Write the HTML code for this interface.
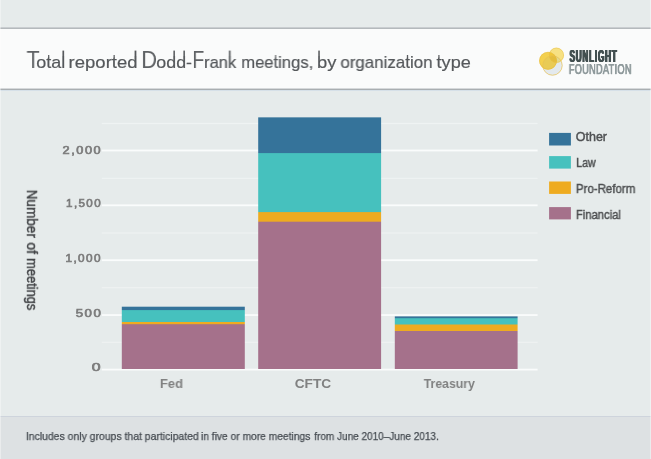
<!DOCTYPE html>
<html>
<head>
<meta charset="utf-8">
<title>Total reported Dodd-Frank meetings, by organization type</title>
<style>
html,body{margin:0;padding:0;}
body{width:651px;height:459px;overflow:hidden;background:#e6ebeb;font-family:"Liberation Sans",sans-serif;position:relative;}
.abs{position:absolute;}
.hdr{left:0;top:27px;width:651px;height:64px;background:linear-gradient(to bottom,#c9cdd0 0,#c9cdd0 1px,#b4b9bc 1px,#b4b9bc 2px,#fafbfb 2px,#fafbfb 61px,#d6d9db 61px,#d6d9db 62px,#a9aeb1 62px,#a9aeb1 63px,#d6e0e8 63px,#d6e0e8 64px);}
.ftr{left:0;top:416px;width:651px;height:43px;background:#dde1e3;border-top:1px solid #ced4dc;box-sizing:border-box;}
.edge{top:0;width:1px;height:459px;background:rgba(255,255,255,0.38);}
.t{position:absolute;white-space:nowrap;line-height:1;transform-origin:0 0;will-change:transform;}
</style>
</head>
<body>
<div class="abs hdr"></div>
<div class="abs ftr"></div>
<svg class="abs" style="left:530px;top:40px;" width="40" height="40" viewBox="530 40 40 40">
  <defs>
    <clipPath id="cL"><circle cx="548" cy="60.7" r="8.8"/></clipPath>
    <clipPath id="cB"><circle cx="552.5" cy="65.5" r="10"/></clipPath>
    <clipPath id="cLB" clip-path="url(#cB)"><circle cx="548" cy="60.7" r="8.8"/></clipPath>
  </defs>
  <circle cx="552.5" cy="65.5" r="10" fill="#e3e9ed"/>
  <circle cx="548" cy="60.7" r="8.8" fill="#f3d04e"/>
  <circle cx="556.4" cy="55.2" r="7.5" fill="#f7e182"/>
  <circle cx="552.5" cy="65.5" r="10" fill="#e9cb55" clip-path="url(#cL)"/>
  <circle cx="556.4" cy="55.2" r="7.5" fill="#e4da8e" clip-path="url(#cB)"/>
  <circle cx="556.4" cy="55.2" r="7.5" fill="#f1c737" clip-path="url(#cL)"/>
  <circle cx="556.4" cy="55.2" r="7.5" fill="#e4bd3c" clip-path="url(#cLB)"/>
  <circle cx="552.5" cy="65.5" r="9.7" fill="none" stroke="#e9c252" stroke-width="0.7"/>
  <circle cx="548" cy="60.7" r="8.5" fill="none" stroke="#e6bb40" stroke-width="0.6" stroke-opacity="0.9"/>
  <circle cx="556.4" cy="55.2" r="7.2" fill="none" stroke="#e9c24c" stroke-width="0.6" stroke-opacity="0.9"/>
</svg>
<svg class="abs" style="left:0;top:0;" width="651" height="459" viewBox="0 0 651 459">
<rect x="101.8" y="122.95" width="435.8" height="1.1" fill="#eff3f3"/>
<rect x="101.8" y="177.85" width="435.8" height="1.1" fill="#eff3f3"/>
<rect x="101.8" y="232.45" width="435.8" height="1.1" fill="#eff3f3"/>
<rect x="101.8" y="287.15" width="435.8" height="1.1" fill="#eff3f3"/>
<rect x="101.8" y="341.75" width="435.8" height="1.1" fill="#eff3f3"/>
<rect x="101.8" y="149.60" width="435.8" height="1.8" fill="#fafcfc"/>
<rect x="101.8" y="204.40" width="435.8" height="1.8" fill="#fafcfc"/>
<rect x="101.8" y="259.30" width="435.8" height="1.8" fill="#fafcfc"/>
<rect x="101.8" y="314.15" width="435.8" height="1.8" fill="#fafcfc"/>
<rect x="101.8" y="368.70" width="435.8" height="1.8" fill="#fafcfc"/>
<mask id="bar0" maskUnits="userSpaceOnUse" x="0" y="0" width="651" height="459"><rect x="121.80" y="306.70" width="123.00" height="62.30" fill="#fff"/></mask>
<g mask="url(#bar0)">
<rect x="119" y="303.70" width="129" height="68.30" fill="#35739a"/>
<rect x="119" y="310.10" width="129" height="61.90" fill="#46c1be"/>
<rect x="119" y="322.00" width="129" height="50.00" fill="#eeab20"/>
<rect x="119" y="324.20" width="129" height="47.80" fill="#a5718b"/>
</g>
<mask id="bar1" maskUnits="userSpaceOnUse" x="0" y="0" width="651" height="459"><rect x="258.20" y="117.35" width="122.90" height="251.65" fill="#fff"/></mask>
<g mask="url(#bar1)">
<rect x="255" y="114.35" width="129" height="257.65" fill="#35739a"/>
<rect x="255" y="153.10" width="129" height="218.90" fill="#46c1be"/>
<rect x="255" y="212.10" width="129" height="159.90" fill="#eeab20"/>
<rect x="255" y="221.70" width="129" height="150.30" fill="#a5718b"/>
</g>
<mask id="bar2" maskUnits="userSpaceOnUse" x="0" y="0" width="651" height="459"><rect x="394.80" y="316.40" width="122.80" height="52.60" fill="#fff"/></mask>
<g mask="url(#bar2)">
<rect x="392" y="313.40" width="129" height="58.60" fill="#35739a"/>
<rect x="392" y="318.20" width="129" height="53.80" fill="#46c1be"/>
<rect x="392" y="324.50" width="129" height="47.50" fill="#eeab20"/>
<rect x="392" y="331.00" width="129" height="41.00" fill="#a5718b"/>
</g>
<rect x="549.1" y="132.9" width="21.8" height="12.6" fill="#35739a"/>
<rect x="549.1" y="156.1" width="21.8" height="12.5" fill="#46c1be"/>
<rect x="549.1" y="181.5" width="21.8" height="12.4" fill="#eeab20"/>
<rect x="549.1" y="207.1" width="21.8" height="12.3" fill="#a5718b"/>
</svg>
<div class="t" id="tT" style="left:0;top:48px;font-size:23.8px;font-weight:normal;color:#5f6265;transform:translateX(26.54px) scaleX(0.9017);">T</div>
<div class="t" id="t1" style="left:0;top:54px;font-size:17px;font-weight:normal;color:#55585b;-webkit-text-stroke:0.2px #55585b;transform:translateX(36.32px) scaleX(1.0552);">otal</div>
<div class="t" id="t2" style="left:0;top:54px;font-size:17px;font-weight:normal;color:#55585b;-webkit-text-stroke:0.2px #55585b;transform:translateX(68.61px) scaleX(1.0879);">reported</div>
<div class="t" id="tD" style="left:0;top:48px;font-size:23.8px;font-weight:normal;color:#5f6265;transform:translateX(141.25px) scaleX(0.9193);">D</div>
<div class="t" id="t3" style="left:0;top:54px;font-size:17px;font-weight:normal;color:#55585b;-webkit-text-stroke:0.2px #55585b;transform:translateX(156.33px) scaleX(1.0491);">odd-</div>
<div class="t" id="tF" style="left:0;top:48px;font-size:23.8px;font-weight:normal;color:#5f6265;transform:translateX(192.36px) scaleX(0.8175);">F</div>
<div class="t" id="t3b" style="left:0;top:54px;font-size:17px;font-weight:normal;color:#55585b;-webkit-text-stroke:0.2px #55585b;transform:translateX(204.00px) scaleX(0.9759);">rank</div>
<div class="t" id="t4" style="left:0;top:54px;font-size:17px;font-weight:normal;color:#55585b;-webkit-text-stroke:0.2px #55585b;transform:translateX(241.23px) scaleX(0.9772);">meetings,</div>
<div class="t" id="t5" style="left:0;top:54px;font-size:17px;font-weight:normal;color:#55585b;-webkit-text-stroke:0.2px #55585b;transform:translateX(317.03px) scaleX(1.0794);">by</div>
<div class="t" id="t6" style="left:0;top:54px;font-size:17px;font-weight:normal;color:#55585b;-webkit-text-stroke:0.2px #55585b;transform:translateX(340.43px) scaleX(0.9934);">organization</div>
<div class="t" id="t7" style="left:0;top:54px;font-size:17px;font-weight:normal;color:#55585b;-webkit-text-stroke:0.2px #55585b;transform:translateX(436.59px) scaleX(1.0634);">type</div>
<div class="t" id="sun" style="left:0;top:48px;font-size:16.5px;font-weight:bold;color:#435051;letter-spacing:1.6px;text-shadow:-0.6px 0 0 #435051,0.6px 0 0 #435051,-1.2px 0 0 #435051,1.2px 0 0 #435051;transform:translateX(569.55px) scaleX(0.4936);">SUNLIGHT</div>
<div class="t" id="fnd" style="left:0;top:62px;font-size:14px;font-weight:normal;color:#8f9a9c;-webkit-text-stroke:0.25px #8f9a9c;letter-spacing:0.4px;text-shadow:-0.55px 0 0 #8f9a9c,0.55px 0 0 #8f9a9c;transform:translateX(568.78px) scaleX(0.6590);">FOUNDATION</div>
<div class="t" id="y2000" style="left:0;top:146px;font-size:10px;font-weight:normal;color:#7b7b7b;-webkit-text-stroke:0.6px #7b7b7b;letter-spacing:1.2px;transform:translateX(62.59px) scaleX(1.2739);">2,000</div>
<div class="t" id="y1500" style="left:0;top:199px;font-size:10px;font-weight:normal;color:#7b7b7b;-webkit-text-stroke:0.6px #7b7b7b;letter-spacing:1.2px;transform:translateX(66.05px) scaleX(1.1573);">1,500</div>
<div class="t" id="y1000" style="left:0;top:254px;font-size:10px;font-weight:normal;color:#7b7b7b;-webkit-text-stroke:0.6px #7b7b7b;letter-spacing:1.2px;transform:translateX(65.46px) scaleX(1.1754);">1,000</div>
<div class="t" id="y500" style="left:0;top:309px;font-size:10px;font-weight:normal;color:#7b7b7b;-webkit-text-stroke:0.6px #7b7b7b;letter-spacing:1.2px;transform:translateX(75.65px) scaleX(1.3210);">500</div>
<div class="t" id="y0" style="left:0;top:363px;font-size:10px;font-weight:normal;color:#7b7b7b;-webkit-text-stroke:0.6px #7b7b7b;transform:translateX(91.84px) scaleX(1.5777);">0</div>
<div class="t" id="xfed" style="left:0;top:377px;font-size:13.2px;font-weight:bold;color:#808181;transform:translateX(159.90px) scaleX(0.9807);">Fed</div>
<div class="t" id="xcftc" style="left:0;top:377px;font-size:13.2px;font-weight:bold;color:#808181;transform:translateX(294.64px) scaleX(1.0413);">CFTC</div>
<div class="t" id="xtre" style="left:0;top:377px;font-size:13.2px;font-weight:bold;color:#808181;transform:translateX(423.76px) scaleX(0.9278);">Treasury</div>
<div class="t" id="l1" style="left:0;top:131px;font-size:12.4px;font-weight:normal;color:#4e5052;-webkit-text-stroke:0.45px #4e5052;transform:translateX(575.78px) scaleX(1.0074);">Other</div>
<div class="t" id="l2" style="left:0;top:157px;font-size:12.4px;font-weight:normal;color:#4e5052;-webkit-text-stroke:0.45px #4e5052;transform:translateX(576.21px) scaleX(0.8581);">Law</div>
<div class="t" id="l3" style="left:0;top:183px;font-size:12.4px;font-weight:normal;color:#4e5052;-webkit-text-stroke:0.45px #4e5052;transform:translateX(575.86px) scaleX(0.9283);">Pro-Reform</div>
<div class="t" id="l4" style="left:0;top:209px;font-size:12.4px;font-weight:normal;color:#4e5052;-webkit-text-stroke:0.45px #4e5052;transform:translateX(575.90px) scaleX(0.9080);">Financial</div>
<div class="t" id="f1" style="left:0;top:431px;font-size:11px;font-weight:normal;color:#454b51;-webkit-text-stroke:0.25px #454b51;transform:translateX(25.86px) scaleX(0.9489);">Includes only groups that participated</div>
<div class="t" id="f2" style="left:0;top:431px;font-size:11px;font-weight:normal;color:#454b51;-webkit-text-stroke:0.25px #454b51;transform:translateX(200.99px) scaleX(0.9306);">in five or more meetings</div>
<div class="t" id="f3" style="left:0;top:431px;font-size:11px;font-weight:normal;color:#454b51;-webkit-text-stroke:0.25px #454b51;transform:translateX(314.29px) scaleX(0.9087);">from June 2010–June 2013.</div>
<svg class="abs" style="left:0;top:40px;" width="651" height="40" viewBox="0 40 651 40">
<rect x="48" y="55.00" width="1" height="2.00" fill="#55585b" fill-opacity="0.91"/>
<rect x="49" y="55.00" width="1" height="2.00" fill="#55585b" fill-opacity="0.30"/>
<rect x="62" y="50.60" width="1" height="5.40" fill="#55585b" fill-opacity="0.56"/>
<rect x="63" y="50.60" width="1" height="5.40" fill="#55585b" fill-opacity="0.98"/>
<rect x="64" y="50.60" width="1" height="5.40" fill="#55585b" fill-opacity="0.13"/>
<rect x="113" y="55.00" width="1" height="2.00" fill="#55585b" fill-opacity="0.46"/>
<rect x="114" y="55.00" width="1" height="2.00" fill="#55585b" fill-opacity="0.75"/>
<rect x="134" y="50.60" width="1" height="5.40" fill="#55585b" fill-opacity="0.41"/>
<rect x="135" y="50.60" width="1" height="5.40" fill="#55585b" fill-opacity="1.00"/>
<rect x="136" y="50.60" width="1" height="5.40" fill="#55585b" fill-opacity="0.37"/>
<rect x="173" y="50.60" width="1" height="5.40" fill="#55585b" fill-opacity="0.60"/>
<rect x="174" y="50.60" width="1" height="5.40" fill="#55585b" fill-opacity="0.91"/>
<rect x="183" y="50.60" width="1" height="5.40" fill="#55585b" fill-opacity="0.60"/>
<rect x="184" y="50.60" width="1" height="5.40" fill="#55585b" fill-opacity="0.91"/>
<rect x="228" y="50.60" width="1" height="5.40" fill="#55585b" fill-opacity="0.24"/>
<rect x="229" y="50.60" width="1" height="5.40" fill="#55585b" fill-opacity="0.78"/>
<rect x="230" y="50.60" width="1" height="5.40" fill="#55585b" fill-opacity="0.53"/>
<rect x="231" y="50.60" width="1" height="5.40" fill="#55585b" fill-opacity="0.09"/>
<rect x="274" y="55.00" width="1" height="2.00" fill="#55585b" fill-opacity="0.19"/>
<rect x="275" y="55.00" width="1" height="2.00" fill="#55585b" fill-opacity="0.59"/>
<rect x="276" y="55.00" width="1" height="2.00" fill="#55585b" fill-opacity="0.33"/>
<rect x="318" y="50.60" width="1" height="5.40" fill="#55585b" fill-opacity="0.73"/>
<rect x="319" y="50.60" width="1" height="5.40" fill="#55585b" fill-opacity="0.79"/>
<rect x="406" y="55.00" width="1" height="2.00" fill="#55585b" fill-opacity="0.15"/>
<rect x="407" y="55.00" width="1" height="2.00" fill="#55585b" fill-opacity="0.97"/>
<rect x="408" y="55.00" width="1" height="2.00" fill="#55585b" fill-opacity="0.14"/>
<rect x="438" y="55.00" width="1" height="2.00" fill="#55585b" fill-opacity="0.68"/>
<rect x="439" y="55.00" width="1" height="2.00" fill="#55585b" fill-opacity="0.51"/>
</svg>
<div class="t" id="yt0" style="left:0;top:0;font-size:14px;font-weight:normal;color:#424447;-webkit-text-stroke:0.45px #424447;transform:translate(39.05px,189.73px) rotate(90deg) scaleX(0.9664);">Number</div>
<div class="t" id="yt1" style="left:0;top:0;font-size:14px;font-weight:normal;color:#424447;-webkit-text-stroke:0.45px #424447;transform:translate(39.05px,242.43px) rotate(90deg) scaleX(0.9936);">of</div>
<div class="t" id="yt2" style="left:0;top:0;font-size:14px;font-weight:normal;color:#424447;-webkit-text-stroke:0.45px #424447;transform:translate(39.05px,258.15px) rotate(90deg) scaleX(0.9182);">meetings</div>
<div class="abs edge" style="left:0;"></div>
<div class="abs edge" style="left:650px;"></div>
</body>
</html>
